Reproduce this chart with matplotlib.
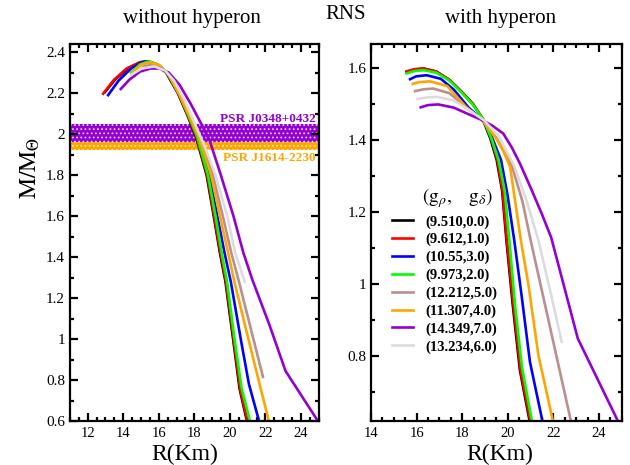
import matplotlib
matplotlib.use("Agg")
import matplotlib.pyplot as plt
from matplotlib.ticker import MultipleLocator, FormatStrFormatter

plt.rcParams['font.family'] = 'serif'
plt.rcParams['font.serif'] = ['Liberation Serif', 'DejaVu Serif']
plt.rcParams['mathtext.fontset'] = 'stix'
plt.rcParams['hatch.linewidth'] = 0.8

# coupling sets (g_rho, g_delta), legend order
labels = ['(9.510,0.0)', '(9.612,1.0)', '(10.55,3.0)', '(9.973,2.0)',
          '(12.212,5.0)', '(11.307,4.0)', '(14.349,7.0)', '(13.234,6.0)']
colors = ['black', 'red', 'blue', '#00ff00', '#bc8f8f', 'orange', '#9400d3', '#dcdcdc']

# ---- without hyperons: radius (km), mass (M_sun)
r_nh0 = [12.97, 13.53, 14.24, 14.94, 15.35, 15.85, 16.41, 17.07, 17.57, 18.08, 18.69, 19.09, 19.44, 19.75, 20.18, 20.55, 20.96]
m_nh0 = [2.205, 2.265, 2.32, 2.35, 2.355, 2.34, 2.30, 2.20, 2.10, 1.99, 1.80, 1.60, 1.42, 1.28, 1.00, 0.755, 0.60]
r_nh1 = [12.87, 13.48, 14.19, 14.94, 15.35, 15.85, 16.43, 17.09, 17.59, 18.11, 18.72, 19.12, 19.47, 19.78, 20.21, 20.58, 20.99]
m_nh1 = [2.197, 2.265, 2.32, 2.35, 2.355, 2.34, 2.30, 2.20, 2.10, 1.99, 1.80, 1.60, 1.42, 1.28, 1.00, 0.755, 0.60]
r_nh2 = [14.43, 14.94, 15.45, 15.95, 16.46, 17.12, 17.62, 18.15, 18.77, 19.19, 19.54, 19.84, 20.26, 20.66, 21.13]
m_nh2 = [2.30, 2.34, 2.355, 2.34, 2.30, 2.20, 2.10, 1.99, 1.80, 1.60, 1.42, 1.28, 1.00, 0.76, 0.60]
r_nh3 = [13.15, 13.73, 14.44, 15.04, 15.40, 15.90, 16.46, 17.12, 17.67, 18.20, 18.84, 19.29, 19.70, 20.05, 20.61, 21.07, 21.64]
m_nh3 = [2.19, 2.26, 2.32, 2.35, 2.355, 2.34, 2.30, 2.20, 2.10, 1.99, 1.80, 1.60, 1.42, 1.28, 1.00, 0.78, 0.60]
r_nh4 = [14.49, 15.04, 15.55, 16.06, 16.56, 17.17, 17.72, 18.28, 18.94, 19.44, 19.90, 20.25, 21.21, 22.19]
m_nh4 = [2.30, 2.34, 2.35, 2.335, 2.29, 2.19, 2.09, 1.98, 1.80, 1.60, 1.42, 1.28, 0.94, 0.60]
r_nh5 = [14.64, 15.15, 15.65, 16.16, 16.66, 17.27, 17.83, 18.38, 19.04, 19.60, 20.08, 20.51, 21.86]
m_nh5 = [2.285, 2.33, 2.34, 2.325, 2.28, 2.18, 2.08, 1.97, 1.80, 1.60, 1.42, 1.28, 0.815]
r_nh6 = [14.47, 15.04, 15.75, 16.36, 16.86, 17.42, 17.98, 18.53, 19.19, 19.85, 20.30, 20.83]
m_nh6 = [2.29, 2.32, 2.33, 2.31, 2.26, 2.17, 2.06, 1.95, 1.80, 1.60, 1.42, 1.28]
r_nh7 = [13.86, 14.34, 14.94, 15.55, 16.06, 16.56, 17.17, 17.78, 18.33, 18.87, 19.49, 20.20, 20.76, 21.26, 22.22, 23.13, 24.95]
m_nh7 = [2.22, 2.265, 2.305, 2.32, 2.32, 2.30, 2.24, 2.15, 2.06, 1.966, 1.80, 1.60, 1.42, 1.29, 1.07, 0.844, 0.60]

# ---- with hyperons
r_h0 = [15.56, 15.93, 16.31, 16.87, 17.44, 18.00, 18.47, 18.90, 19.23, 19.51, 19.75, 19.94, 20.22, 20.53, 20.95]
m_h0 = [1.589, 1.596, 1.598, 1.59, 1.567, 1.532, 1.50, 1.458, 1.405, 1.345, 1.26, 1.12, 0.94, 0.761, 0.622]
r_h1 = [15.56, 15.93, 16.31, 16.87, 17.44, 18.00, 18.47, 18.92, 19.26, 19.54, 19.77, 19.96, 20.25, 20.56, 20.98]
m_h1 = [1.591, 1.597, 1.599, 1.59, 1.567, 1.532, 1.50, 1.458, 1.405, 1.345, 1.26, 1.12, 0.94, 0.761, 0.622]
r_h2 = [15.56, 15.93, 16.31, 16.87, 17.44, 18.00, 18.47, 18.92, 19.28, 19.59, 19.86, 20.07, 20.32, 20.62, 21.05]
m_h2 = [1.585, 1.592, 1.594, 1.587, 1.565, 1.53, 1.498, 1.457, 1.405, 1.345, 1.26, 1.12, 0.94, 0.77, 0.622]
r_h3 = [15.71, 15.98, 16.44, 17.06, 17.63, 18.28, 18.90, 19.32, 19.70, 19.98, 20.28, 20.60, 20.97, 21.51]
m_h3 = [1.569, 1.577, 1.58, 1.57, 1.54, 1.49, 1.455, 1.405, 1.345, 1.25, 1.122, 0.97, 0.784, 0.622]
r_h4 = [15.83, 16.12, 16.59, 17.34, 18.19, 18.90, 19.44, 19.80, 20.10, 20.57, 20.90, 21.34, 21.97]
m_h4 = [1.556, 1.561, 1.563, 1.55, 1.49, 1.455, 1.409, 1.37, 1.326, 1.122, 1.0, 0.803, 0.622]
r_h5 = [15.93, 16.31, 16.73, 17.44, 18.19, 18.85, 19.51, 20.17, 20.64, 21.00, 22.76]
m_h5 = [1.536, 1.541, 1.543, 1.53, 1.49, 1.456, 1.405, 1.33, 1.23, 1.122, 0.622]
r_h6 = [16.04, 16.40, 16.87, 17.63, 18.38, 18.95, 19.61, 20.27, 20.83, 21.34, 21.90, 22.36]
m_h6 = [1.514, 1.518, 1.52, 1.51, 1.48, 1.455, 1.41, 1.33, 1.23, 1.122, 0.97, 0.84]
r_h7 = [16.18, 16.49, 16.95, 17.63, 18.34, 18.85, 19.32, 19.80, 20.17, 20.53, 21.02, 21.49, 21.90, 23.07, 24.79]
m_h7 = [1.491, 1.497, 1.499, 1.49, 1.47, 1.456, 1.44, 1.418, 1.38, 1.335, 1.265, 1.195, 1.13, 0.849, 0.625]

# pulsar mass bands
psr_j0348 = (1.96, 2.05)
psr_j1614 = (1.92, 1.96)

curves_nh = [(r_nh0, m_nh0), (r_nh1, m_nh1), (r_nh3, m_nh3), (r_nh2, m_nh2),
             (r_nh5, m_nh5), (r_nh4, m_nh4), (r_nh7, m_nh7), (r_nh6, m_nh6)]
curves_h = [(r_h0, m_h0), (r_h1, m_h1), (r_h3, m_h3), (r_h2, m_h2),
            (r_h5, m_h5), (r_h4, m_h4), (r_h7, m_h7), (r_h6, m_h6)]

fig = plt.figure(figsize=(6.3, 4.65), dpi=100)
ax1 = fig.add_axes([0.111, 0.0946, 0.395, 0.811])
ax2 = fig.add_axes([0.589, 0.0946, 0.398, 0.811])


def style_axis(ax):
    for s in ax.spines.values():
        s.set_linewidth(1.6)
    ax.tick_params(which='both', direction='in', top=True, right=True, width=1.6)
    ax.tick_params(axis='x', labelsize=10.5, pad=4)
    ax.tick_params(axis='y', labelsize=11)
    ax.tick_params(which='major', length=6)
    ax.tick_params(which='minor', length=3)
    ax.xaxis.set_major_locator(MultipleLocator(2))
    ax.xaxis.set_minor_locator(MultipleLocator(0.5))
    ax.yaxis.set_major_locator(MultipleLocator(0.2))
    ax.yaxis.set_minor_locator(MultipleLocator(0.1))
    ax.yaxis.set_major_formatter(FormatStrFormatter('%g'))
    ax.xaxis.set_major_formatter(FormatStrFormatter('%g'))


# left panel
ax1.axhspan(*psr_j0348, facecolor='#9400d3', edgecolor='#e8c8f4', hatch='....', linewidth=0)
ax1.axhspan(*psr_j1614, facecolor='orange', edgecolor='#ffe8b0', hatch='....', linewidth=0)
for (r, m), c in zip(curves_nh, colors):
    ax1.plot(r, m, color=c, lw=1.9)
ax1.text(24.85, 2.073, 'PSR J0348+0432', color='#9400d3', fontsize=9.5,
         fontweight='bold', ha='right', va='center')
ax1.text(24.85, 1.883, 'PSR J1614-2230', color='orange', fontsize=9.5,
         fontweight='bold', ha='right', va='center')
ax1.set_xlim(11, 25)
ax1.set_ylim(0.6, 2.44)
style_axis(ax1)

# right panel
handles = []
for (r, m), c in zip(curves_h, colors):
    ln, = ax2.plot(r, m, color=c, lw=1.9)
    handles.append(ln)
ax2.set_xlim(14, 25)
ax2.set_ylim(0.62, 1.667)
style_axis(ax2)

ax2.text(0.203, 0.59, r'$(\mathrm{g}_{\rho},\ \ \ \mathrm{g}_{\delta})$', transform=ax2.transAxes,
         fontsize=14, ha='left', va='center')
ax2.legend(handles, labels, loc='upper left', bbox_to_anchor=(0.084, 0.546),
           frameon=False, borderpad=0, borderaxespad=0, handlelength=1.45,
           handletextpad=0.8, labelspacing=0.3,
           prop={'weight': 'bold', 'size': 10.5})

fig.text(0.305, 0.961, 'without hyperon', fontsize=15, ha='center', va='center')
fig.text(0.548, 0.968, 'RNS', fontsize=15, ha='center', va='center')
fig.text(0.795, 0.961, 'with hyperon', fontsize=15, ha='center', va='center')
fig.text(0.294, 0.022, 'R(Km)', fontsize=17, ha='center', va='center')
fig.text(0.794, 0.022, 'R(Km)', fontsize=17, ha='center', va='center')
fig.text(0.048, 0.64, r'$\mathrm{M/M}_{\Theta}$', fontsize=17, ha='center', va='center',
         rotation=90)

fig.savefig('out.png', dpi=100)
